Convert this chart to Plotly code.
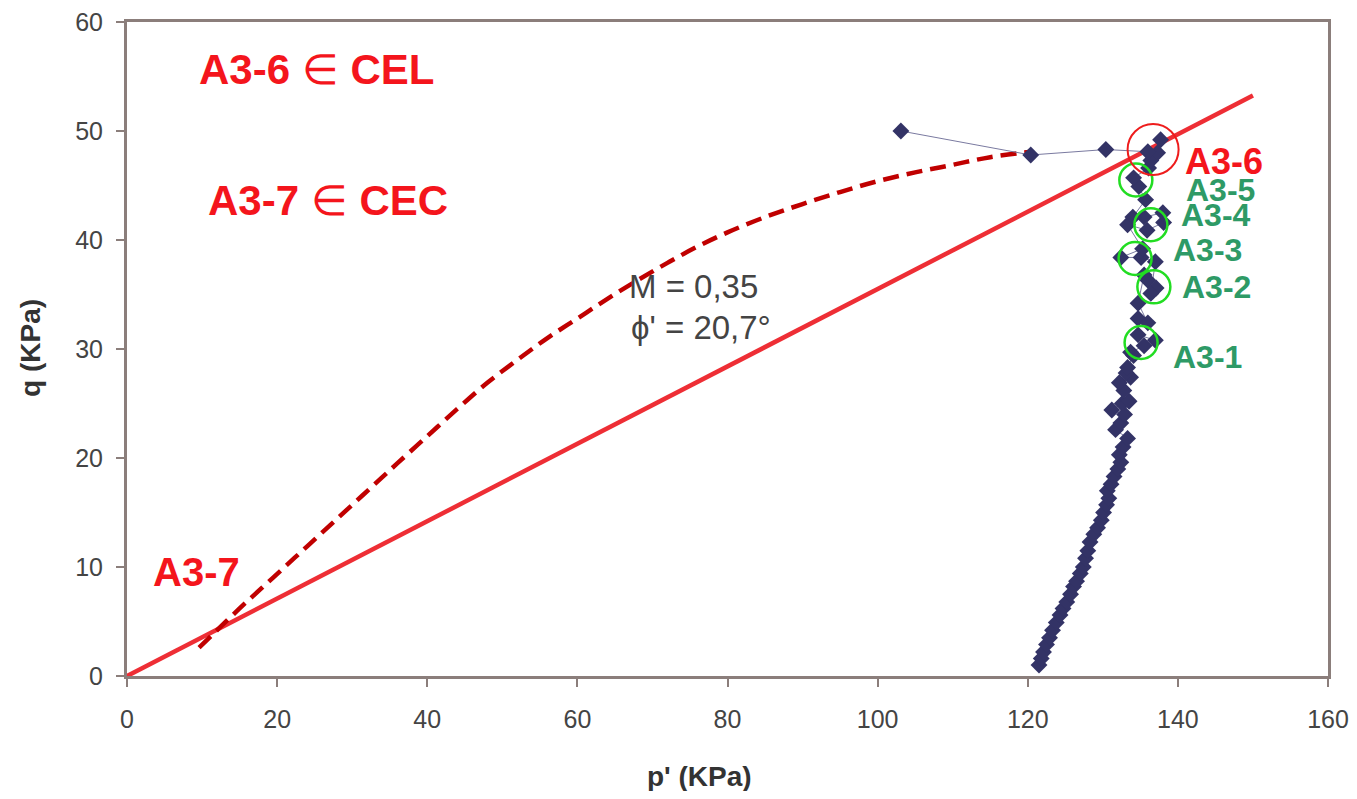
import plotly.graph_objects as go

# Stress path data (p', q) in kPa
p_data = [121.5, 121.8, 122.1, 122.5, 122.9, 123.3, 123.8, 124.3, 124.7, 125.2,
          125.7, 126.1, 126.5, 127.0, 127.4, 127.7, 128.0, 128.3, 128.8, 129.3,
          129.8, 130.1, 130.5, 130.8, 130.6, 131.1, 131.5, 132.0, 132.4, 132.2,
          132.7, 133.3, 131.7, 132.4, 132.9, 131.2, 132.6, 133.5, 132.8, 132.2,
          133.7, 133.1, 133.3, 134.1, 133.7, 135.5, 137.0, 134.7, 134.7, 136.0,
          134.7, 135.5, 136.0, 137.1, 136.4, 137.0, 135.1, 132.4, 135.3, 133.3,
          135.9, 138.1, 138.0, 135.5, 134.0, 135.7, 134.8, 134.1, 136.1, 136.4,
          137.7, 137.3, 136.0, 130.4, 120.4, 103.1]
q_data = [1.0, 1.6, 2.2, 2.9, 3.5, 4.2, 4.9, 5.6, 6.2, 6.8,
          7.5, 8.2, 8.7, 9.4, 10.0, 10.8, 11.5, 12.3, 13.0, 13.6,
          14.3, 15.0, 15.7, 16.3, 17.0, 17.6, 18.3, 19.0, 19.6, 20.3,
          21.0, 21.8, 22.6, 23.2, 24.0, 24.4, 25.0, 25.2, 26.2, 26.9,
          27.4, 27.8, 28.3, 29.4, 29.7, 30.3, 30.8, 31.3, 32.8, 32.4,
          34.2, 36.8, 36.3, 35.6, 35.1, 38.0, 38.4, 38.4, 39.2, 41.4,
          40.9, 41.6, 42.5, 42.1, 42.1, 43.7, 44.9, 45.7, 46.6, 47.3,
          49.2, 48.0, 48.1, 48.3, 47.8, 50.0]

# Critical state line q = M p'
M = 0.355
csl_p = [0, 150]
csl_q = [M * v for v in csl_p]

# Dashed path (A3-7)
dash_p = [9.6, 12, 15, 18, 21, 24, 27, 30, 33, 36, 40, 44, 48, 52, 56, 60, 64, 68,
          72, 76, 80, 85, 90, 95, 100, 105, 110, 115, 120.4]
dash_q = [2.6, 4.2, 6.2, 8.1, 10.0, 11.9, 13.8, 15.7, 17.6, 19.5, 22.0, 24.5, 26.9,
          29.0, 31.0, 32.8, 34.6, 36.3, 37.9, 39.4, 40.7, 42.1, 43.3, 44.4, 45.4,
          46.2, 46.9, 47.6, 48.1]

# Highlighted points
green_p = [134.4, 136.4, 134.3, 136.8, 135.1]
green_q = [45.5, 41.4, 38.3, 35.7, 30.6]
green_labels = ["A3-5", "A3-4", "A3-3", "A3-2", "A3-1"]
green_label_p = [145.7, 145.1, 144.0, 145.1, 144.0]
green_label_q = [44.6, 42.3, 39.1, 35.7, 29.3]
red_p = [136.7]
red_q = [48.3]

x_ticks = [0, 20, 40, 60, 80, 100, 120, 140, 160]
y_ticks = [0, 10, 20, 30, 40, 50, 60]

RED = "#f4151c"
GREEN = "#2e9a66"
FONT = "Liberation Sans, Arial, sans-serif"

fig = go.Figure()

fig.add_trace(go.Scatter(x=csl_p, y=csl_q, mode="lines",
                         line=dict(color="#ee2e35", width=4.5), hoverinfo="skip"))
fig.add_trace(go.Scatter(x=dash_p, y=dash_q, mode="lines", line_shape="spline",
                         line=dict(color="#c00000", width=4.5, dash="16px,8px"),
                         hoverinfo="skip"))
fig.add_trace(go.Scatter(x=p_data, y=q_data, mode="lines+markers",
                         line=dict(color="#7a7aa0", width=1),
                         marker=dict(symbol="diamond", size=13, color="#333366",
                                     line=dict(width=0))))
fig.add_trace(go.Scatter(x=green_p, y=green_q, mode="markers",
                         marker=dict(symbol="circle-open", size=33, color="#22dd22",
                                     line=dict(color="#22dd22", width=2.5)),
                         hoverinfo="skip"))
fig.add_trace(go.Scatter(x=red_p, y=red_q, mode="markers",
                         marker=dict(symbol="circle-open", size=51, color="#ee1c1c",
                                     line=dict(color="#ee1c1c", width=2)),
                         hoverinfo="skip"))

for lbl, px, qy in zip(green_labels, green_label_p, green_label_q):
    fig.add_annotation(x=px, y=qy, text="<b>" + lbl + "</b>", showarrow=False,
                       font=dict(family=FONT, size=32, color=GREEN))
fig.add_annotation(x=146.1, y=47.2, text="<b>A3-6</b>", showarrow=False,
                   font=dict(family=FONT, size=36, color=RED))
fig.add_annotation(x=9.3, y=9.5, text="<b>A3-7</b>", showarrow=False,
                   font=dict(family=FONT, size=40, color=RED))
fig.add_annotation(x=25.3, y=55.6, text="<b>A3-6</b> ∈ <b>CEL</b>", showarrow=False,
                   font=dict(family=FONT, size=42, color=RED))
fig.add_annotation(x=26.8, y=43.6, text="<b>A3-7</b> ∈ <b>CEC</b>", showarrow=False,
                   font=dict(family=FONT, size=42, color=RED))
fig.add_annotation(x=75.5, y=35.7, text="M = 0,35", showarrow=False,
                   font=dict(family=FONT, size=33, color="#444444"))
fig.add_annotation(x=76.5, y=32.0, text="ϕ' = 20,7°", showarrow=False,
                   font=dict(family=FONT, size=33, color="#444444"))

# Axis titles
fig.add_annotation(xref="paper", yref="paper", x=0.477, y=-0.153,
                   xanchor="center", yanchor="middle",
                   text="<b>p' (KPa)</b>", showarrow=False,
                   font=dict(family=FONT, size=28, color="#333333"))
fig.add_annotation(xref="paper", yref="paper", x=-0.0808, y=0.5015, textangle=-90,
                   xanchor="center", yanchor="middle",
                   text="<b>q (KPa)</b>", showarrow=False,
                   font=dict(family=FONT, size=28, color="#333333"))

axis_common = dict(showline=True, linecolor="#8b7e7b", linewidth=3, mirror=True,
                   ticks="outside", ticklen=8, tickcolor="#8b7e7b", tickwidth=1.5,
                   showgrid=False, zeroline=False, automargin=False,
                   ticklabeloverflow="allow",
                   tickfont=dict(family=FONT, size=25, color="#444444"))

fig.update_xaxes(range=[0, 160], tickvals=x_ticks, ticklabelstandoff=11, **axis_common)
fig.update_yaxes(range=[0, 60], tickvals=y_ticks, ticklabelstandoff=8, **axis_common)

fig.update_layout(width=1341, height=783, showlegend=False,
                  plot_bgcolor="white", paper_bgcolor="white",
                  margin=dict(l=119, r=21, t=14, b=115))

fig.write_html("out.html")
